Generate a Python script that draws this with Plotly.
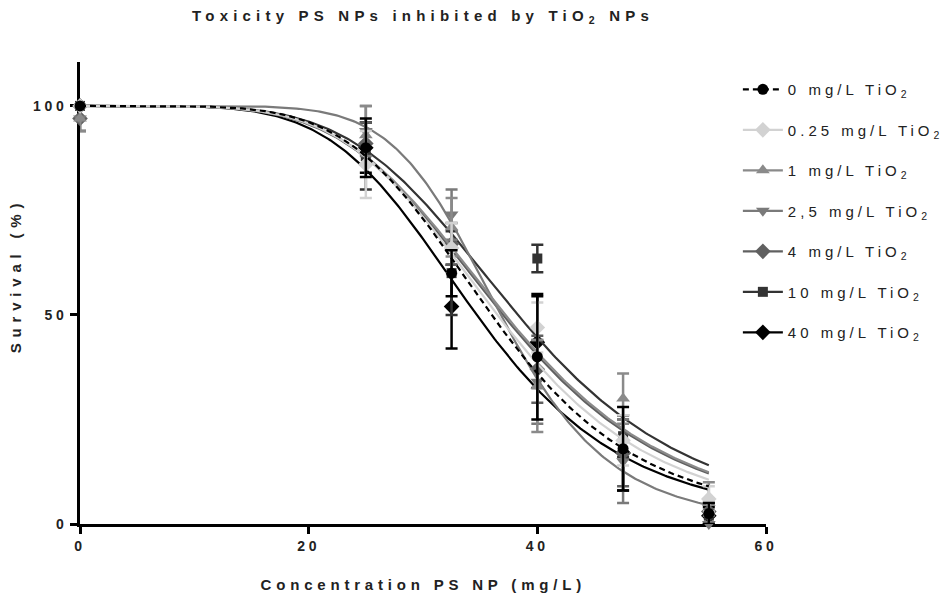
import numpy as np
import plotly.graph_objects as go

# ---------------- data ----------------
conc = [0, 25, 32.5, 40, 47.5, 55]
series_names = ["0 mg/L TiO<sub>2</sub>", "0.25 mg/L TiO<sub>2</sub>", "1 mg/L TiO<sub>2</sub>",
                "2,5 mg/L TiO<sub>2</sub>", "4 mg/L TiO<sub>2</sub>", "10 mg/L TiO<sub>2</sub>",
                "40 mg/L TiO<sub>2</sub>"]

mean_0 = [100, 90, 60, 40, 18, 2.5]
sd_0 = [0, 7, 5.5, 15, 10, 2.5]
mean_025 = [100, 86, 66, 47, 20, 6]
sd_025 = [0, 8, 6, 6, 6, 3]
mean_1 = [97, 93, 71, 33, 30, 5]
sd_1 = [3, 7, 7, 11, 6, 5]
mean_25 = [97, 94, 74, 34, 15, 0]
sd_25 = [3, 6, 6, 10, 10, 2]
mean_4 = [97, 91, 67, 37, 17, 3]
sd_4 = [3, 5, 5, 8, 8, 3]
mean_10 = [100, 88, 60, 63.5, 21, 2]
sd_10 = [0, 8, 10, 3.3, 5, 3]
mean_40 = [100, 90, 52, 43.5, 17, 2]
sd_40 = [0, 6, 10, 11, 9, 2]

# fitted dose-response parameters (IC50, Hill slope)
ic50 = [36.0, 36.5, 37.2, 36.8, 37.0, 38.3, 34.7]
hill = [5.46, 5.2, 5.0, 7.6, 5.0, 5.0, 5.24]

x_ticks = [0, 20, 40, 60]
y_ticks = [0, 50, 100]

title_text = "Toxicity PS NPs inhibited by TiO<sub>2</sub> NPs"
x_title = "Concentration PS NP (mg/L)"
y_title = "Survival (%)"

means = [mean_0, mean_025, mean_1, mean_25, mean_4, mean_10, mean_40]
sds = [sd_0, sd_025, sd_1, sd_25, sd_4, sd_10, sd_40]

# ---------------- styles ----------------
colors = ["#000000", "#d2d2d2", "#8a8a8a", "#7a7a7a", "#606060", "#333333", "#000000"]
symbols = ["circle", "diamond", "triangle-up", "triangle-down", "diamond", "square", "diamond"]
msizes = [11, 12, 12, 12, 12, 10, 12]
dashes = ["6px,4px", "solid", "solid", "solid", "solid", "solid", "solid"]
TXT = "#222222"
font_family = "Liberation Sans, Arial, sans-serif"

fig = go.Figure()

xc = np.linspace(0, 55, 300)
# draw last series first so the first (0 mg/L) ends up on top
for i in reversed(range(7)):
    yc = 100.0 / (1.0 + (xc / ic50[i]) ** hill[i])
    fig.add_trace(go.Scatter(x=xc, y=yc, mode="lines",
                             line=dict(color=colors[i], width=2.2, dash=dashes[i]),
                             showlegend=False, hoverinfo="skip", cliponaxis=False))
    fig.add_trace(go.Scatter(x=conc, y=means[i], mode="markers",
                             marker=dict(color=colors[i], symbol=symbols[i], size=msizes[i]),
                             error_y=dict(type="data", array=sds[i], color=colors[i],
                                          thickness=2.5, width=6),
                             showlegend=False, cliponaxis=False))

# legend entries
for i in range(7):
    fig.add_trace(go.Scatter(x=[None], y=[None], mode="lines+markers", name=series_names[i],
                             legendgroup=str(i),
                             line=dict(color=colors[i], width=2.2, dash=dashes[i]),
                             marker=dict(color=colors[i], symbol=symbols[i], size=msizes[i])))

fig.update_layout(
    width=950, height=596,
    margin=dict(l=80, r=184, t=62, b=72),
    paper_bgcolor="white", plot_bgcolor="white",
    font=dict(family=font_family, color=TXT),
    title=dict(text="<b>" + title_text + "</b>",
               xref="paper", x=0.5, xanchor="center",
               yref="container", y=0.973, yanchor="middle",
               font=dict(size=15, color=TXT)),
    legend=dict(x=0.959, xanchor="left", y=0.976, yanchor="top",
                font=dict(size=15, color=TXT),
                tracegroupgap=18, itemwidth=40, bgcolor="rgba(0,0,0,0)"),
    showlegend=True,
    annotations=[
        dict(text="<b>" + x_title + "</b>", xref="paper", yref="paper", x=0.5, y=-0.13,
             xanchor="center", yanchor="middle", showarrow=False,
             font=dict(size=15, color=TXT)),
        dict(text="<b>" + y_title + "</b>", xref="paper", yref="paper", x=-0.094, y=0.537,
             xanchor="center", yanchor="middle", textangle=-90, showarrow=False,
             font=dict(size=15, color=TXT)),
    ],
)

fig.update_xaxes(range=[0, 60], tickvals=x_ticks, ticktext=["<b>%d</b>" % v for v in x_ticks],
                 showgrid=False, zeroline=False, showline=True, linecolor="black", linewidth=2.5,
                 ticks="outside", ticklen=7, tickwidth=2.5, tickcolor="black",
                 tickfont=dict(size=14, color=TXT, family=font_family),
                 layer="below traces", fixedrange=True)
fig.update_yaxes(range=[0, 110.5], tickvals=y_ticks, ticktext=["<b>%d</b>" % v for v in y_ticks],
                 showgrid=False, zeroline=False, showline=True, linecolor="black", linewidth=2.5,
                 ticks="outside", ticklen=7, tickwidth=2.5, tickcolor="black",
                 tickfont=dict(size=14, color=TXT, family=font_family),
                 layer="below traces", fixedrange=True)

post = """
var gd = document.getElementById('{plot_id}');
function sp(){
  gd.querySelectorAll('.gtitle').forEach(function(e){e.style.letterSpacing='5.2px';});
  gd.querySelectorAll('.annotation-text').forEach(function(e){e.style.letterSpacing='4.8px';});
  gd.querySelectorAll('.annotation-text').forEach(function(e){
    if (e.textContent.indexOf('Survival') >= 0) e.style.letterSpacing='5.8px';});
  gd.querySelectorAll('.xtick text, .ytick text').forEach(function(e){e.style.letterSpacing='3.7px';});
  gd.querySelectorAll('.legendtext').forEach(function(e){e.style.letterSpacing='4px';});
  gd.querySelectorAll('.legend .scrollbox, .legend').forEach(function(e){e.removeAttribute('clip-path');});
  try {
    gd.querySelectorAll('tspan').forEach(function(t){
      var txt = (t.textContent || '').replace(/[\\u200b\\u200c\\u200d\\ufeff]/g, '');
      if (txt === '' && !t.classList.contains('line')) { t.parentNode.removeChild(t); return; }
      var fs = t.style.fontSize;
      if (fs && fs.indexOf('%') >= 0) {
        var px = parseFloat(window.getComputedStyle(t).fontSize);
        t.style.fontSize = px + 'px';
        if (t.getAttribute('dy')) {
          t.removeAttribute('dy');
          t.style.baselineShift = (-0.3 * px).toFixed(2) + 'px';
        }
      }
    });
  } catch (err) {}
}
sp(); setTimeout(sp, 50); setTimeout(sp, 300);
"""
fig.write_html("out.html", post_script=post)
